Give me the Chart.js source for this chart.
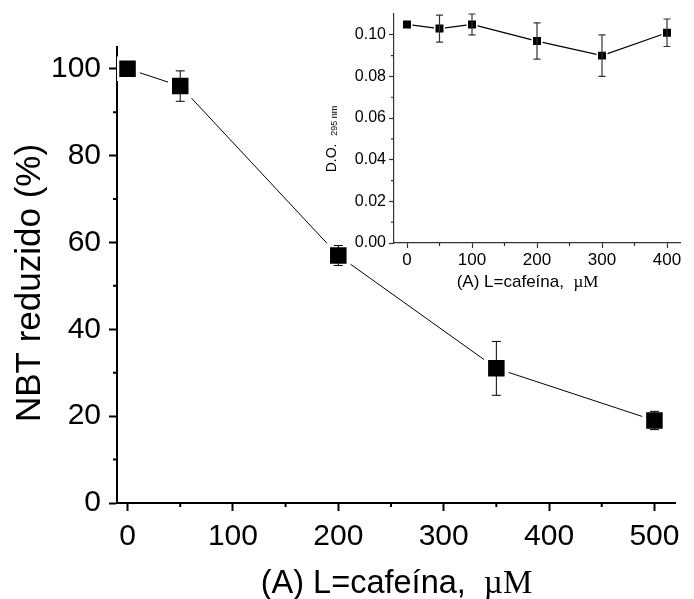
<!DOCTYPE html>
<html>
<head>
<meta charset="utf-8">
<script src="https://cdn.jsdelivr.net/npm/chart.js@4.4.1/dist/chart.umd.min.js"></script>
<style>
  html, body { margin: 0; padding: 0; background: #fff; }
  #wrap { position: relative; width: 694px; height: 599px; }
  #main { position: absolute; left: 0; top: 0; }
  #inset { position: absolute; left: 310px; top: 0; }
</style>
</head>
<body>
<div id="wrap">
  <canvas id="main" width="694" height="599"></canvas>
  <canvas id="inset" width="384" height="300"></canvas>
</div>
<script>
// main panel: NBT reduced vs caffeine
const mainConc = [0, 50, 200, 350, 500];
const mainNBT = [100, 96, 57, 31, 19];
const mainErr = [0, 3.5, 2.3, 6.2, 2.1];
const mainXTicks = [0, 100, 200, 300, 400, 500];
const mainXMinor = [50, 150, 250, 350, 450];
const mainYTicks = [0, 20, 40, 60, 80, 100];
const mainYMinor = [10, 30, 50, 70, 90];

// inset: D.O. 295 nm vs caffeine
const insetConc = [0, 50, 100, 200, 300, 400];
const insetDO = [0.105, 0.103, 0.105, 0.097, 0.090, 0.101];
const insetErr = [0, 0.0065, 0.005, 0.0087, 0.010, 0.0066];
const insetXTicks = [0, 100, 200, 300, 400];
const insetXMinor = [50, 150, 250, 350];
const insetYTicks = [0, 0.02, 0.04, 0.06, 0.08, 0.10];
const insetYMinor = [0.01, 0.03, 0.05, 0.07, 0.09];

const SANS = "Arial, 'Liberation Sans', sans-serif";
const SERIF = "'Times New Roman', 'Liberation Serif', serif";

const errorBars = {
  id: 'errorBars',
  afterDatasetsDraw(chart, args, opts) {
    const { ctx, scales: { x, y } } = chart;
    const ds = chart.data.datasets[0];
    ctx.save();
    ctx.strokeStyle = opts.color;
    ctx.lineWidth = opts.width;
    ds.data.forEach((p, i) => {
      const e = opts.errors[i];
      if (!e) return;
      const px = x.getPixelForValue(p.x);
      const top = y.getPixelForValue(p.y + e);
      const bot = y.getPixelForValue(p.y - e);
      ctx.beginPath();
      ctx.moveTo(px, top); ctx.lineTo(px, bot);
      ctx.moveTo(px - opts.cap, top); ctx.lineTo(px + opts.cap, top);
      ctx.moveTo(px - opts.cap, bot); ctx.lineTo(px + opts.cap, bot);
      ctx.stroke();
    });
    ctx.restore();
  }
};

const minorTicks = {
  id: 'minorTicks',
  afterDraw(chart, args, opts) {
    const { ctx, chartArea, scales: { x, y } } = chart;
    ctx.save();
    ctx.strokeStyle = opts.color;
    ctx.lineWidth = opts.width;
    ctx.beginPath();
    opts.xValues.forEach(v => {
      const px = x.getPixelForValue(v);
      ctx.moveTo(px, chartArea.bottom);
      ctx.lineTo(px, chartArea.bottom + opts.len);
    });
    opts.yValues.forEach(v => {
      const py = y.getPixelForValue(v);
      ctx.moveTo(chartArea.left, py);
      ctx.lineTo(chartArea.left - opts.len, py);
    });
    ctx.stroke();
    ctx.restore();
  }
};

// titles with mixed fonts (Arial + Times for µM, subscript for 295 nm)
function drawParts(ctx, parts, cx, cy, rotate) {
  ctx.save();
  ctx.translate(cx, cy);
  if (rotate) ctx.rotate(-Math.PI / 2);
  ctx.textBaseline = 'alphabetic';
  ctx.textAlign = 'left';
  ctx.fillStyle = '#000';
  let total = 0;
  parts.forEach(p => {
    ctx.font = p.font;
    p.w = ctx.measureText(p.text).width;
    total += p.w;
  });
  let xx = -total / 2;
  parts.forEach(p => {
    ctx.font = p.font;
    ctx.fillText(p.text, xx, p.dy || 0);
    xx += p.w;
  });
  ctx.restore();
}

const axisTitles = {
  id: 'axisTitles',
  afterDraw(chart, args, opts) {
    const ctx = chart.ctx;
    drawParts(ctx, opts.xParts, opts.xPos[0], opts.xPos[1], false);
    drawParts(ctx, opts.yParts, opts.yPos[0], opts.yPos[1], true);
  }
};

function axisOpts(ticks, min, max, fontSize, tickLen, pad, lw, color, fit, fmt) {
  return {
    type: 'linear',
    min: min,
    max: max,
    afterBuildTicks: s => { s.ticks = ticks.map(v => ({ value: v })); },
    afterFit: fit,
    border: { display: true, color: color, width: lw },
    grid: { drawOnChartArea: false, drawTicks: true, tickLength: tickLen, tickWidth: lw, tickColor: color },
    ticks: {
      color: '#000',
      padding: pad,
      autoSkip: false,
      maxRotation: 0,
      font: { family: SANS, size: fontSize },
      callback: fmt || (v => v)
    }
  };
}

new Chart(document.getElementById('main'), {
  type: 'line',
  data: {
    datasets: [{
      data: mainConc.map((c, i) => ({ x: c, y: mainNBT[i] })),
      borderColor: '#000',
      borderWidth: 1,
      pointStyle: 'rect',
      pointRadius: 14.5,
      pointBackgroundColor: '#000',
      pointBorderColor: '#fff',
      pointBorderWidth: 4,
      tension: 0
    }]
  },
  options: {
    responsive: false,
    animation: false,
    events: [],
    layout: { padding: { top: 47, right: 10, left: 0, bottom: 0 } },
    plugins: {
      legend: { display: false },
      tooltip: { enabled: false },
      errorBars: { errors: mainErr, color: '#000', width: 1, cap: 4.5 },
      minorTicks: { xValues: mainXMinor, yValues: mainYMinor, len: 4, width: 2, color: '#000' },
      axisTitles: {
        xParts: [
          { text: '(A) L=cafeína,  ', font: '32.5px ' + SANS },
          { text: 'µM', font: '33px ' + SERIF }
        ],
        xPos: [396.5, 592.5],
        yParts: [{ text: 'NBT reduzido (%)', font: '35px ' + SANS }],
        yPos: [39.5, 283]
      }
    },
    scales: {
      x: axisOpts(mainXTicks, -10, 520, 30, 8, 8, 2, '#000', s => { s.height = 96; }),
      y: axisOpts(mainYTicks, 0, 105, 30, 8, 8, 2, '#000', s => { s.width = 117; })
    }
  },
  plugins: [errorBars, minorTicks, axisTitles]
});

new Chart(document.getElementById('inset'), {
  type: 'line',
  data: {
    datasets: [{
      data: insetConc.map((c, i) => ({ x: c, y: insetDO[i] })),
      borderColor: '#000',
      borderWidth: 1.2,
      pointStyle: 'rect',
      pointRadius: 6.7,
      pointBackgroundColor: '#000',
      pointBorderColor: '#fff',
      pointBorderWidth: 1.5,
      tension: 0
    }]
  },
  options: {
    responsive: false,
    animation: false,
    events: [],
    layout: { padding: { top: 14, right: 14, left: 0, bottom: 0 } },
    plugins: {
      legend: { display: false },
      tooltip: { enabled: false },
      errorBars: { errors: insetErr, color: '#333', width: 1.2, cap: 3.5 },
      minorTicks: { xValues: insetXMinor, yValues: insetYMinor, len: 3, width: 1.2, color: '#333' },
      axisTitles: {
        xParts: [
          { text: '(A) L=cafeína,  ', font: '17px ' + SANS },
          { text: 'µM', font: '17px ' + SERIF }
        ],
        xPos: [217.5, 287.3],
        yParts: [
          { text: 'D.O.  ', font: '14px ' + SANS },
          { text: '295 nm', font: '9px ' + SANS, dy: 1 }
        ],
        yPos: [25.7, 139]
      }
    },
    scales: {
      x: axisOpts(insetXTicks, -20, 420, 17, 5, 2, 1.2, '#333', s => { s.height = 57; }),
      y: axisOpts(insetYTicks, 0, 0.11, 16, 5, 3, 1.2, '#333', s => { s.width = 84; }, v => v.toFixed(2))
    }
  },
  plugins: [errorBars, minorTicks, axisTitles]
});
</script>
</body>
</html>
